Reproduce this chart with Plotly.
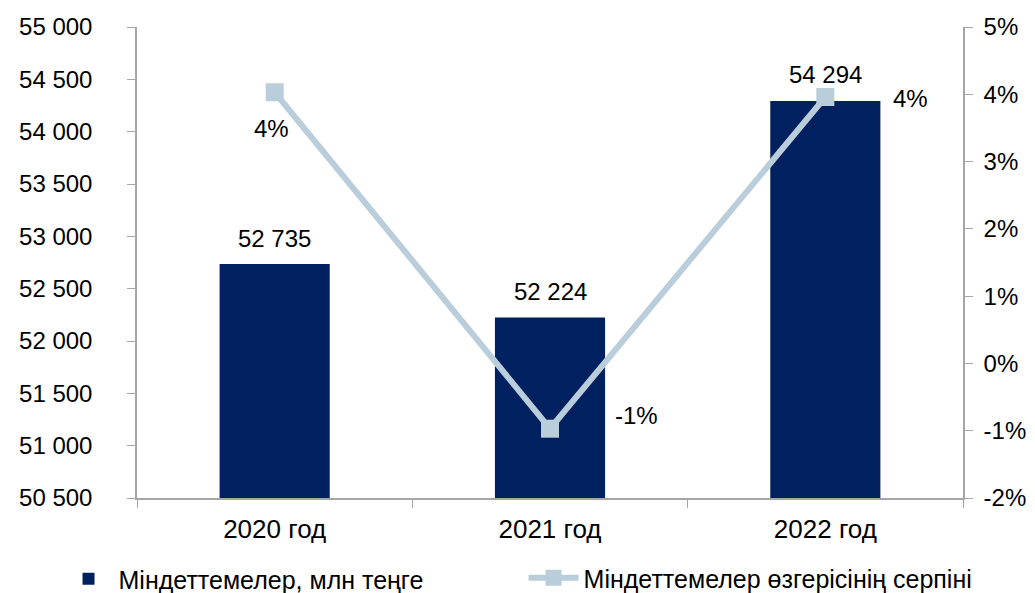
import plotly.graph_objects as go

categories = ["2020 год", "2021 год", "2022 год"]
liabilities = [52735, 52224, 54294]
change = [0.0403, -0.0097, 0.0396]
bar_name = "Міндеттемелер, млн теңге"
line_name = "Міндеттемелер өзгерісінің серпіні"
pct_tickvals = [-0.02, -0.01, 0.0, 0.01, 0.02, 0.03, 0.04, 0.05]
pct_ticktext = ["-2%", "-1%", "0%", "1%", "2%", "3%", "4%", "5%"]

FONT = "Liberation Sans, Arial, sans-serif"
AXIS = "#A6A6A6"
FS = 24

fig = go.Figure()
fig.add_trace(go.Bar(
    x=categories, y=liabilities, name=bar_name,
    marker=dict(color="#002060", line=dict(width=0)),
    width=0.4, legend="legend",
))
fig.add_trace(go.Scatter(
    x=categories, y=change, name=line_name, yaxis="y2",
    mode="lines+markers",
    line=dict(color="#B9CDDA", width=6),
    marker=dict(symbol="square", size=18, color="#B9CDDA"),
    cliponaxis=False, legend="legend2",
))

# data labels
for c, v in zip(categories, liabilities):
    fig.add_annotation(x=c, y=v, xref="x", yref="y", text=f"{v:,d}".replace(",", " "),
                       showarrow=False, yshift=26, font=dict(size=FS, color="#000"))
line_shifts = [(-3, -36), (86, 13), (85, -2)]
for c, v, (dx, dy) in zip(categories, change, line_shifts):
    fig.add_annotation(x=c, y=v, xref="x", yref="y2", text=f"{round(v * 100):d}%",
                       showarrow=False, xshift=dx, yshift=dy, font=dict(size=FS, color="#000"))

fig.update_layout(
    width=1035, height=593,
    margin=dict(l=137, r=72, t=27, b=95, autoexpand=False),
    paper_bgcolor="white", plot_bgcolor="white",
    separators=", ",
    font=dict(family=FONT, size=FS, color="#000000"),
    xaxis=dict(
        showline=True, linecolor=AXIS, linewidth=1.5,
        ticks="outside", tickson="boundaries", ticklen=8, tickcolor=AXIS,
        tickfont=dict(size=26), showgrid=False, ticklabelstandoff=7,
    ),
    yaxis=dict(
        range=[50500, 55000], dtick=500, tick0=50500, tickformat=",d",
        showline=True, linecolor=AXIS, linewidth=1.5,
        ticks="outside", ticklen=8, tickcolor=AXIS, showgrid=False,
        zeroline=False, tickfont=dict(size=FS), ticklabelstandoff=30,
    ),
    yaxis2=dict(
        range=[-0.02, 0.05], tickvals=pct_tickvals, ticktext=pct_ticktext,
        overlaying="y", side="right",
        showline=True, linecolor=AXIS, linewidth=1.5,
        ticks="outside", ticklen=8, tickcolor=AXIS, showgrid=False,
        zeroline=False, tickfont=dict(size=FS), ticklabelstandoff=6,
    ),
    legend=dict(
        orientation="h", x=-0.095, y=-0.172, xanchor="left", yanchor="middle",
        font=dict(size=25), itemwidth=50, bgcolor="rgba(0,0,0,0)",
    ),
    legend2=dict(
        orientation="h", x=0.468, y=-0.17, xanchor="left", yanchor="middle",
        font=dict(size=25), itemwidth=50, bgcolor="rgba(0,0,0,0)",
    ),
    showlegend=True,
)

fig.write_html("out.html")
